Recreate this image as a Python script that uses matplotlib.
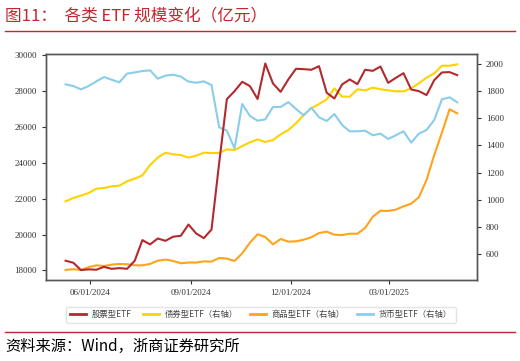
import numpy as np
import pandas as pd
import matplotlib
matplotlib.use('Agg')
import matplotlib.pyplot as plt
import matplotlib.dates as mdates
from matplotlib.lines import Line2D

plt.rcParams['font.family'] = ['Liberation Serif', 'Noto Sans CJK SC']

# weekly observations
dates = pd.date_range('2024-05-10', periods=52, freq='7D')

equity = [18540, 18430, 18020, 18060, 18040, 18200, 18090, 18130, 18090, 18540,
          19690, 19450, 19780, 19650, 19880, 19930, 20560, 20060, 19800, 20280,
          24000, 27545, 27990, 28510, 28270, 27550, 29530, 28420, 27950, 28640,
          29235, 29215, 29180, 29380, 27900, 27580, 28360, 28640, 28380, 29180,
          29120, 29360, 28450, 28730, 28990, 28080, 27990, 27770, 28600, 29030,
          29050, 28880]

bond = [989, 1013, 1031, 1050, 1082, 1087, 1099, 1104, 1136, 1155,
        1180, 1256, 1310, 1346, 1334, 1329, 1310, 1324, 1346, 1344,
        1344, 1371, 1366, 1395, 1422, 1444, 1425, 1439, 1481, 1513,
        1562, 1623, 1672, 1704, 1738, 1819, 1758, 1758, 1812, 1804,
        1824, 1812, 1804, 1797, 1797, 1819, 1856, 1897, 1929, 1985,
        1985, 1995]

commodity = [485, 490, 485, 505, 519, 514, 524, 529, 527, 519,
             519, 529, 553, 561, 551, 534, 539, 539, 548, 546,
             573, 568, 551, 607, 685, 747, 727, 673, 712, 693,
             695, 707, 725, 756, 766, 744, 741, 751, 751, 793,
             876, 920, 918, 928, 952, 972, 1018, 1146, 1329, 1493,
             1665, 1635]

money = [1848, 1836, 1811, 1836, 1870, 1902, 1882, 1863, 1927, 1936,
         1946, 1951, 1890, 1912, 1919, 1905, 1868, 1860, 1870, 1843,
         1532, 1508, 1378, 1704, 1616, 1581, 1591, 1682, 1682, 1718,
         1667, 1621, 1677, 1606, 1579, 1630, 1550, 1503, 1503, 1508,
         1474, 1486, 1447, 1474, 1503, 1420, 1486, 1513, 1586, 1738,
         1753, 1716]

labels = ['股票型ETF', '债券型ETF（右轴）', '商品型ETF（右轴）', '货币型ETF（右轴）']
colors = ['#B22A2E', '#FFD200', '#FFA31A', '#8ACDEB']

fig = plt.figure(figsize=(5.2, 3.61), dpi=100)
ax = fig.add_axes([0.0885, 0.224, 0.8285, 0.626])
ax2 = ax.twinx()

ax.plot(dates, equity, color=colors[0], lw=1.5, zorder=3)
ax2.plot(dates, bond, color=colors[1], lw=1.5)
ax2.plot(dates, commodity, color=colors[2], lw=1.5)
ax2.plot(dates, money, color=colors[3], lw=1.5)
ax.set_zorder(ax2.get_zorder() + 1)
ax.patch.set_visible(False)

ax.set_ylim(17460, 30050)
ax.set_yticks(np.arange(18000, 30001, 2000))
ax2.set_ylim(410, 2070)
ax2.set_yticks(np.arange(600, 2001, 200))

ax.xaxis.set_major_locator(mdates.MonthLocator(bymonth=[3, 6, 9, 12]))
ax.xaxis.set_major_formatter(mdates.DateFormatter('%m/%d/%Y'))

for a in (ax, ax2):
    for s in a.spines.values():
        s.set_color('#555555')
        s.set_linewidth(1.0)
    a.tick_params(labelsize=6.5, colors='#333333', length=3, width=0.8)

handles = [Line2D([], [], color=c, lw=2) for c in colors]
leg = fig.legend(handles, labels, ncol=4, loc='center', bbox_to_anchor=(0.502, 0.128),
                 frameon=True, edgecolor='#DDDDDD', fancybox=True,
                 handlelength=1.9, columnspacing=1.45, handletextpad=0.7,
                 borderpad=0.45, prop={'family': ['Noto Sans CJK SC'], 'size': 6})
for t in leg.get_texts():
    t.set_color('#444444')

title_red = '#C0282E'
fig.text(0.01, 0.955, '图11：  各类 ETF 规模变化（亿元）', color=title_red, fontsize=12,
         ha='left', va='center', family=['Noto Sans CJK SC'])
fig.add_artist(Line2D([0.01, 0.99], [0.914, 0.914], color=title_red, lw=1.0))
fig.add_artist(Line2D([0.01, 0.99], [0.081, 0.081], color=title_red, lw=1.0))
fig.text(0.01, 0.040, '资料来源：Wind，浙商证券研究所', color='black', fontsize=11,
         ha='left', va='center', family=['Noto Sans CJK SC'])

fig.savefig('out.png', dpi=100)
